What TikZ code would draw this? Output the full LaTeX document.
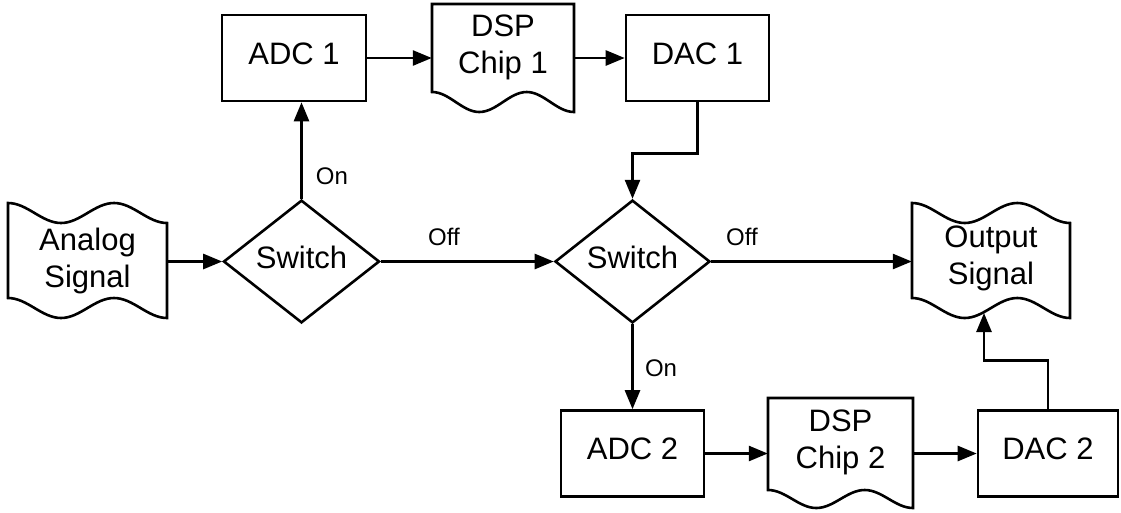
\documentclass[tikz,border=0pt]{standalone}
\usepackage{fontspec}
\setmainfont{Liberation Sans}
\usetikzlibrary{shapes.geometric,arrows.meta,calc}
\begin{document}
\begin{tikzpicture}[x=1pt,y=-1pt,
  every node/.style={font=\fontsize{31}{37}\selectfont, inner sep=0pt},
  procbox/.style={draw, line width=2.6pt, rectangle, minimum width=144pt, minimum height=86pt, text depth=9pt},
  decision/.style={draw, line width=2.6pt, diamond, minimum width=156pt, minimum height=113pt, text depth=9pt},
  textarea/.style={align=center, draw=none},
  outline/.style={draw, line width=2.6pt, line join=miter},
  flow/.style={line width=2.6pt, -{Triangle[length=19pt,width=15pt]}},
  tag/.style={font=\fontsize{24}{28}\selectfont}
]
\useasboundingbox (0,0) rectangle (1121,512);

% wavy outlines: tapes and documents
\draw[outline] (8,203) cos (34.5,213) sin (61,223) cos (87.5,213) sin (114,203) cos (140.5,213) sin (167,223)
  -- (167,318) cos (140.5,308) sin (114,298) cos (87.5,308) sin (61,318) cos (34.5,308) sin (8,298) -- cycle;
\draw[outline] (912,203) cos (938.3,213) sin (964.7,223) cos (991,213) sin (1017.3,203) cos (1043.7,213) sin (1070,223)
  -- (1070,318) cos (1043.7,308) sin (1017.3,298) cos (991,308) sin (964.7,318) cos (938.3,308) sin (912,298) -- cycle;
\draw[outline] (432,4) -- (574,4) -- (574,112) cos (550.3,102) sin (526.7,92) cos (503,102) sin (479.3,112) cos (455.7,102) sin (432,92) -- cycle;
\draw[outline] (768,398) -- (913,398) -- (913,508) cos (888.8,499) sin (864.7,490) cos (840.5,499) sin (816.3,508) cos (792.2,499) sin (768,490) -- cycle;

% text areas of the wavy shapes
\node[textarea, minimum width=159pt, minimum height=95pt] (analog) at (87.5,260.5) {Analog\\Signal};
\node[textarea, minimum width=158pt, minimum height=95pt] (output) at (991,258) {Output\\Signal};
\node[textarea, minimum width=142pt, minimum height=86pt] (dsp1) at (503,47) {DSP\\Chip 1};
\node[textarea, minimum width=145pt, minimum height=86pt] (dsp2) at (840.5,442) {DSP\\Chip 2};

% process boxes and decisions
\node[procbox] (adc1) at (294,58) {ADC 1};
\node[procbox, minimum width=143pt] (dac1) at (697.5,58) {DAC 1};
\node[procbox, minimum width=143pt] (adc2) at (632.5,453.5) {ADC 2};
\node[procbox, minimum width=140pt] (dac2) at (1048,453.5) {DAC 2};
\node[decision] (sw1) at (301.5,261.5) {Switch};
\node[decision, minimum width=155pt] (sw2) at (632.5,261.5) {Switch};

% branch labels
\node[tag] (on1) at (332,176) {On};
\node[tag] (off1) at (444,237) {Off};
\node[tag] (off2) at (742,237) {Off};
\node[tag] (on2) at (661,368) {On};

% connectors
\coordinate (outfoot) at (984,313);
\draw[flow] (analog.east |- sw1.west) -- (sw1.west);
\draw[flow] (sw1.north) -- (sw1.north |- adc1.south);
\draw[flow] (adc1.east) -- (adc1.east -| dsp1.west);
\draw[flow] (dsp1.east |- dac1.west) -- (dac1.west);
\draw[flow] (dac1.south) -- ++(0,51) -| (sw2.north);
\draw[flow] (sw1.east) -- (sw2.west);
\draw[flow] (sw2.east) -- (sw2.east -| output.west);
\draw[flow] (sw2.south) -- (sw2.south |- adc2.north);
\draw[flow] (adc2.east) -- (adc2.east -| dsp2.west);
\draw[flow] (dsp2.east |- dac2.west) -- (dac2.west);
\draw[flow] (dac2.north) -- ++(0,-49) -| (outfoot);
\end{tikzpicture}
\end{document}
